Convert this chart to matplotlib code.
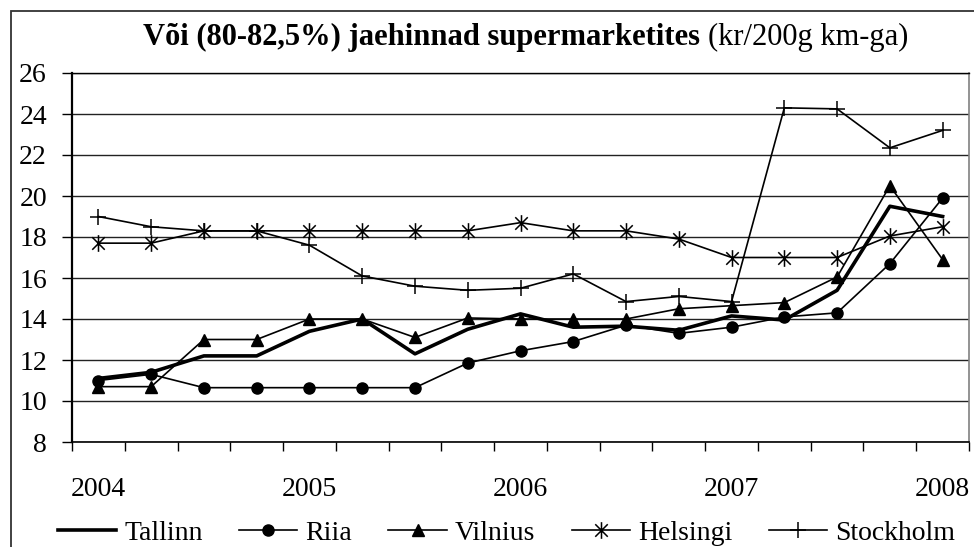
import matplotlib
matplotlib.use("Agg")
import matplotlib.pyplot as plt
from matplotlib.path import Path
from matplotlib.patches import Rectangle

plt.rcParams['font.family'] = ['Liberation Serif', 'DejaVu Serif']

years = ['2004', '2005', '2006', '2007', '2008']
tallinn = [11.1, 11.4, 12.2, 12.2, 13.4, 14.0, 12.3, 13.5, 14.25, 13.6, 13.65, 13.45, 14.15, 13.95, 15.4, 19.5, 19.0]
riia = [11.0, 11.3, 10.65, 10.65, 10.65, 10.65, 10.65, 11.85, 12.45, 12.9, 13.7, 13.3, 13.6, 14.1, 14.3, 16.7, 19.9]
vilnius = [10.7, 10.7, 13.0, 13.0, 14.0, 14.0, 13.1, 14.05, 14.0, 14.0, 14.0, 14.5, 14.65, 14.8, 16.05, 20.5, 16.9]
helsingi = [17.7, 17.7, 18.3, 18.3, 18.3, 18.3, 18.3, 18.3, 18.7, 18.3, 18.3, 17.9, 17.0, 17.0, 17.0, 18.05, 18.5]
stockholm = [19.0, 18.5, 18.3, 18.3, 17.6, 16.1, 15.6, 15.4, 15.5, 16.2, 14.85, 15.1, 14.85, 24.3, 24.25, 22.35, 23.2]

x = list(range(len(tallinn)))

# asterisk marker: vertical line + two diagonals
star = Path([(0, -1), (0, 1), (-0.75, -0.75), (0.75, 0.75), (-0.75, 0.75), (0.75, -0.75)],
            [Path.MOVETO, Path.LINETO, Path.MOVETO, Path.LINETO, Path.MOVETO, Path.LINETO])

fig = plt.figure(figsize=(9.74, 5.47), dpi=100)
ax = fig.add_axes([72/974, 1-442/547, (969-72)/974, (442-73)/547])

ax.plot(x, tallinn, color='black', lw=2.6, label='Tallinn', zorder=5)
ax.plot(x, riia, color='black', lw=1.2, marker='o', ms=8, label='Riia', zorder=4)
ax.plot(x, vilnius, color='black', lw=1.2, marker='^', ms=9, label='Vilnius', zorder=4)
ax.plot(x, helsingi, color='black', lw=1.2, marker=star, ms=12, mew=1.1, label='Helsingi', zorder=4)
ax.plot(x, stockholm, color='black', lw=1.2, marker='+', ms=12, mew=1.1, label='Stockholm', zorder=4)

ax.set_xlim(-0.5, len(x) - 0.5)
ax.set_ylim(8, 26)
ax.set_yticks(range(8, 27, 2))
ax.yaxis.grid(True, color='#222222', lw=1)
ax.set_axisbelow(True)
ax.tick_params(axis='y', length=7, width=1, pad=11, labelsize=20)

ax.set_xticks([0, 4, 8, 12, 16])
ax.set_xticklabels(years)
ax.set_xticks([i - 0.5 for i in range(len(x) + 1)], minor=True)
ax.tick_params(axis='x', which='major', length=0, pad=25, labelsize=20)
ax.tick_params(axis='x', which='minor', length=6.5, width=1)

ax.spines['left'].set_linewidth(1.6)
ax.spines['bottom'].set_linewidth(1.2)
ax.spines['top'].set_linewidth(1)
ax.spines['right'].set_color('#808080')
ax.spines['right'].set_linewidth(1.2)

# outer frame
fig.patches.append(Rectangle((11/974, -0.05), 1.0, 1 - 11/547 + 0.05, transform=fig.transFigure,
                             fill=False, edgecolor='#333333', lw=1.3))

# title: bold part + normal part
t1 = fig.text(143/974, 1 - 45/547, 'Või (80-82,5%) jaehinnad supermarketites ', fontsize=22,
              fontweight='bold', ha='left', va='baseline')
fig.canvas.draw()
bb = t1.get_window_extent()
fig.text(bb.x1 / fig.bbox.width, 1 - 45/547, '(kr/200g km-ga)', fontsize=22, ha='left', va='baseline')

fig.legend(loc='center', bbox_to_anchor=(0.52, 1 - 533/547), ncol=5, frameon=False, fontsize=20,
           handlelength=2.1, handletextpad=0.3, columnspacing=1.3, borderpad=0)

fig.savefig('out.png', dpi=100)
